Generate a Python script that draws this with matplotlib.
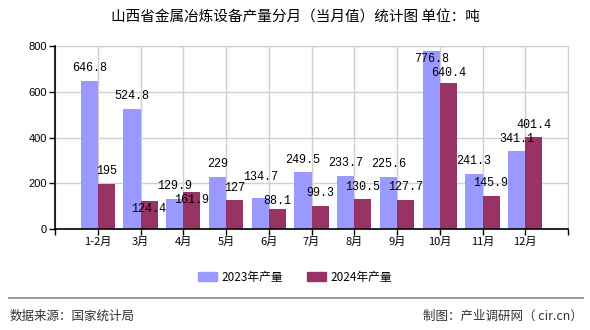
import numpy as np
import matplotlib.pyplot as plt
from matplotlib.patches import Patch

plt.rcParams['font.family'] = ['Noto Sans CJK SC', 'DejaVu Sans']

months = ['1-2月', '3月', '4月', '5月', '6月', '7月', '8月', '9月', '10月', '11月', '12月']
prod_2023 = [646.8, 524.8, 129.9, 229, 134.7, 249.5, 233.7, 225.6, 776.8, 241.3, 341.1]
prod_2024 = [195, 124.4, 161.9, 127, 88.1, 99.3, 130.5, 127.7, 640.4, 145.9, 401.4]
labels_2023 = ['646.8', '524.8', '129.9', '229', '134.7', '249.5', '233.7', '225.6', '776.8', '241.3', '341.1']
labels_2024 = ['195', '124.4', '161.9', '127', '88.1', '99.3', '130.5', '127.7', '640.4', '145.9', '401.4']

c23 = '#9999FF'
c24 = '#993366'

# label offsets in pixels above bar top (negative = below)
off23 = [13, 13, 13, 13, 21, 12, 13, 13, -8, 13, 12]
off24 = [13, -8, -8, 12, 8, 13, 12, 13, 10, 13, 12]

fig = plt.figure(figsize=(5.9, 3.3), dpi=100)
ax = fig.add_axes([55 / 590, 1 - 229 / 330, 513 / 590, 183 / 330])

x = np.arange(1, len(months) + 1)
w = 0.4
ax.bar(x - w / 2, prod_2023, w, color=c23, zorder=3)
ax.bar(x + w / 2, prod_2024, w, color=c24, zorder=3)

for i in range(len(months)):
    ax.annotate(labels_2023[i], (x[i] - w / 2, prod_2023[i]), xytext=(0, off23[i] * 0.72),
                textcoords='offset points', ha='center', va='center',
                fontsize=8.5, family='Liberation Mono', zorder=5)
    ax.annotate(labels_2024[i], (x[i] + w / 2, prod_2024[i]), xytext=(0, off24[i] * 0.72),
                textcoords='offset points', ha='center', va='center',
                fontsize=8.5, family='Liberation Mono', zorder=5)

ax.set_xlim(0, 12)
ax.set_ylim(0, 800)
ax.set_xticks(range(0, 13))
ax.set_xticklabels([''] + months + [''], fontsize=8)
ax.set_yticks([0, 200, 400, 600, 800])
ax.set_yticklabels(['0', '200', '400', '600', '800'], fontsize=8, family='Liberation Sans')
ax.grid(True, color='#d0d0d0', linewidth=1, zorder=0)
ax.tick_params(axis='both', length=4, width=1, color='black', pad=2)
for s in ['top', 'right']:
    ax.spines[s].set_color('#d0d0d0')
for s in ['left', 'bottom']:
    ax.spines[s].set_color('black')
    ax.spines[s].set_linewidth(1.2)
    ax.spines[s].set_zorder(4)

fig.text(0.5, 1 - 18 / 330, '山西省金属冶炼设备产量分月（当月值）统计图 单位：吨',
         ha='center', va='center', fontsize=10.5)

handles = [Patch(color=c23, label='2023年产量'), Patch(color=c24, label='2024年产量')]
fig.legend(handles=handles, loc='center', bbox_to_anchor=(0.5, 1 - 277 / 330), ncol=2,
           frameon=False, fontsize=8.5, handlelength=1.6, handleheight=0.8,
           columnspacing=2.0, handletextpad=0.4)

fig.add_artist(plt.Line2D([9 / 590, 583 / 590], [1 - 298 / 330] * 2, color='#888888', linewidth=1.2))
fig.text(10 / 590, 1 - 316 / 330, '数据来源：国家统计局', ha='left', va='center', fontsize=9, color='#333333')
fig.text(583 / 590, 1 - 316 / 330, '制图：产业调研网（ cir.cn）', ha='right', va='center', fontsize=9, color='#333333')

fig.savefig('out.png', dpi=100)
